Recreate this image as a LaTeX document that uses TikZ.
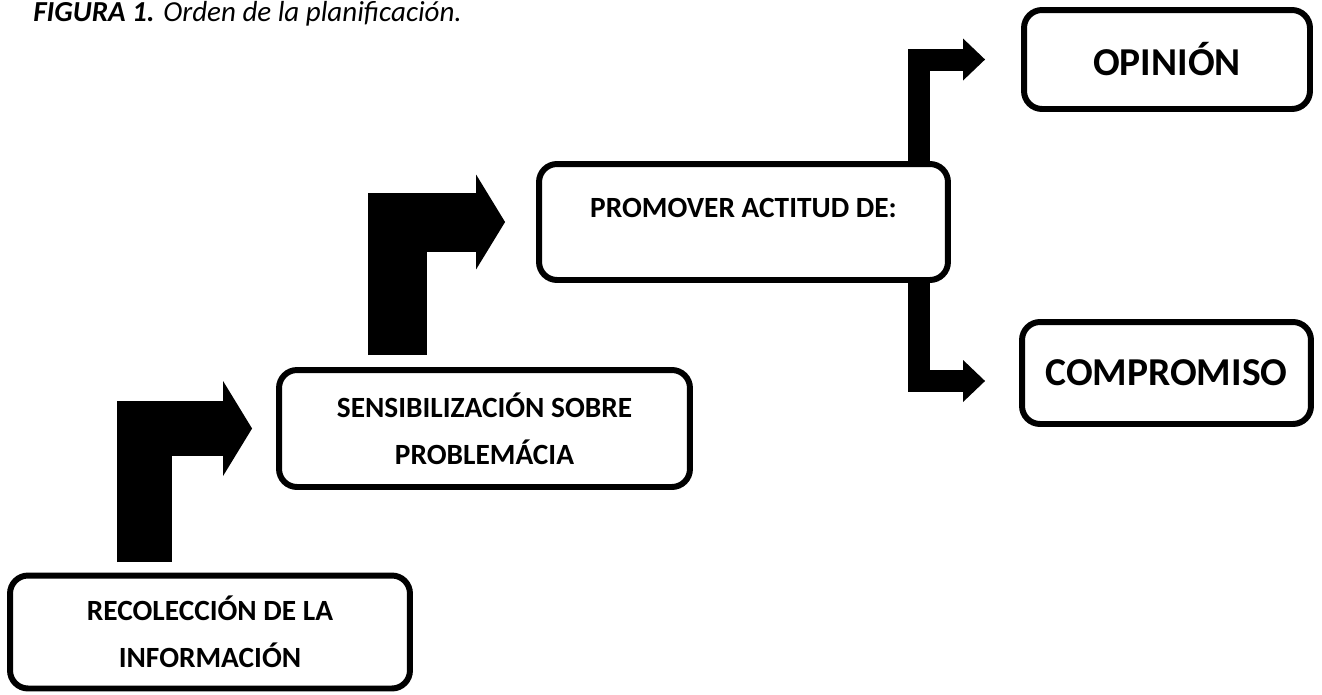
\documentclass[tikz,border=0pt]{standalone}
\usepackage{fontspec}
\setmainfont{Carlito}
\usetikzlibrary{arrows.meta,calc}
\tikzset{
  caja/.style={draw, line width=3.4pt, rounded corners=0.36cm, align=center, inner sep=0pt, font=\bfseries\fontsize{16.7}{26.5}\selectfont},
  grande/.style={caja, font=\bfseries\fontsize{22.5}{26}\selectfont},
  flecha/.style={line width=1.1cm, -{Triangle[length=0.58cm, width=1.9cm, line width=0pt]}},
  flechita/.style={line width=0.44cm, -{Triangle[length=0.44cm, width=0.84cm, line width=0pt]}},
  titulo/.style={inner sep=0pt, font=\itshape\fontsize{16.5}{19}\selectfont},
}
\begin{document}
\begin{tikzpicture}[x=0.02cm,y=-0.02cm]
\useasboundingbox (0,0) rectangle (1322,694);
\node[titulo, anchor=base west] (tit) at (33,21) {\textbf{FIGURA 1.} Orden de la planificación.};
\node[caja, minimum width=8cm, minimum height=2.26cm] (rec) at (210,632) {RECOLECCIÓN DE LA\\INFORMACIÓN};
\node[caja, minimum width=8.22cm, minimum height=2.34cm] (sen) at (484.5,428.5) {SENSIBILIZACIÓN SOBRE\\PROBLEMÁCIA};
\node[caja, minimum width=8.18cm, minimum height=2.32cm, text depth=0.55cm] (pro) at (743.5,222) {PROMOVER ACTITUD DE:};
\node[grande, minimum width=5.72cm, minimum height=1.98cm] (opi) at (1167,59.5) {OPINIÓN};
\node[grande, minimum width=5.78cm, minimum height=2.04cm] (com) at (1166.5,373) {COMPROMISO};
\coordinate (r1) at (144.5,562);
\coordinate (r2) at (397.5,355);
\coordinate (sube) at (919,162);
\coordinate (baja) at (919,282);
\draw[flecha, shorten >=0.48cm] (r1) |- (sen.west);
\draw[flecha, line width=1.18cm, shorten >=0.62cm] (r2) |- (pro.west);
\draw[flechita, shorten >=0.72cm] (sube) |- (opi.west);
\draw[flechita, shorten >=0.68cm] (baja) |- ($(com.west)+(0,8)$);
\end{tikzpicture}
\end{document}
